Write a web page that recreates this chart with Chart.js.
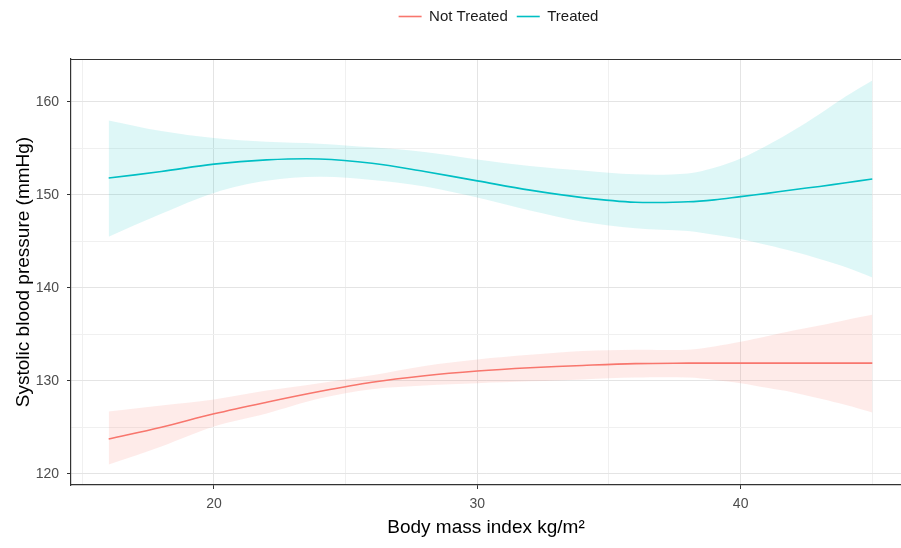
<!DOCTYPE html>
<html><head><meta charset="utf-8">
<script src="https://cdn.jsdelivr.net/npm/chart.js@4.4.1/dist/chart.umd.min.js"></script>
<style>html,body{margin:0;padding:0;background:#fff}#wrap{width:901px;height:548px;position:relative}</style>
</head><body><div id="wrap"><canvas id="c"></canvas></div>
<script>
const seriesNames = ['Not Treated', 'Treated'];
const bmi = [16, 18, 20, 22, 24, 26, 28, 30, 32, 34, 36, 38, 39, 40, 41, 42, 43, 44, 45];
const notTreatedFit   = [123.75, 125.0, 126.45, 127.7, 128.85, 129.85, 130.55, 131.05, 131.4, 131.65, 131.85, 131.9, 131.9, 131.9, 131.9, 131.9, 131.9, 131.9, 131.9];
const notTreatedUpper = [126.7, 127.35, 128.0, 128.95, 129.75, 130.6, 131.6, 132.3, 132.8, 133.2, 133.35, 133.35, 133.7, 134.2, 134.8, 135.4, 135.95, 136.55, 137.1];
const notTreatedLower = [121.0, 122.95, 125.1, 126.5, 128.1, 129.1, 129.5, 129.75, 129.95, 130.15, 130.35, 130.35, 130.1, 129.75, 129.25, 128.75, 128.1, 127.4, 126.6];
const treatedFit   = [151.8, 152.5, 153.3, 153.75, 153.85, 153.4, 152.5, 151.5, 150.5, 149.7, 149.2, 149.25, 149.45, 149.8, 150.15, 150.55, 150.9, 151.3, 151.7];
const treatedUpper = [158.0, 156.85, 156.1, 155.7, 155.5, 155.1, 154.6, 153.8, 153.1, 152.6, 152.2, 152.3, 152.9, 153.9, 155.3, 156.9, 158.7, 160.6, 162.3];
const treatedLower = [145.5, 147.95, 150.2, 151.5, 151.95, 151.6, 150.9, 149.7, 148.3, 147.1, 146.4, 146.1, 145.7, 145.25, 144.6, 143.9, 143.1, 142.2, 141.1];
const xTickLabels = [20, 30, 40];
const yTickLabels = [120, 130, 140, 150, 160];

const RED = '#F8766D', CYAN = '#00BFC4';
const pts = arr => bmi.map((x, i) => ({x: x, y: arr[i]}));
const FONT = "'Liberation Sans', Arial, sans-serif";

const lineDs = (label, data, color) => ({
  label, data: pts(data), borderColor: color, backgroundColor: color,
  borderWidth: 1.6, pointRadius: 0, tension: 0.35, fill: false, order: 0
});
const bandDs = (label, data, fillColor, fill) => ({
  label, data: pts(data), borderColor: 'rgba(0,0,0,0)', backgroundColor: fillColor,
  borderWidth: 0, pointRadius: 0, tension: 0.35, fill: fill, order: 1
});

const border = {
  id: 'panelBorder',
  beforeLayout(chart) {
    const lg = chart.legend;
    if (lg && !lg._patched) {
      const f = lg.fit.bind(lg);
      lg.fit = function () { f(); this.height = 59; };
      lg._patched = true;
    }
  },
  afterLayout(chart) {
    if (chart.legend) { chart.legend.left += 48; chart.legend.right += 48; }
  },
  afterDraw(chart) {
    const a = chart.chartArea, c = chart.ctx;
    c.save(); c.strokeStyle = '#333'; c.lineWidth = 1.2;
    c.beginPath();
    c.moveTo(a.left, a.top + 0.5); c.lineTo(a.right, a.top + 0.5);
    c.stroke(); c.restore();
  }
};

const isMajorX = v => xTickLabels.includes(v);
const isMajorY = v => yTickLabels.includes(v);

new Chart(document.getElementById('c'), {
  type: 'line',
  data: {
    datasets: [
      lineDs(seriesNames[0], notTreatedFit, RED),
      lineDs(seriesNames[1], treatedFit, CYAN),
      bandDs('nt_upper', notTreatedUpper, 'rgba(248,118,109,0.15)', '+1'),
      bandDs('nt_lower', notTreatedLower, 'rgba(248,118,109,0.15)', false),
      bandDs('t_upper', treatedUpper, 'rgba(0,191,196,0.13)', '+1'),
      bandDs('t_lower', treatedLower, 'rgba(0,191,196,0.13)', false)
    ]
  },
  options: {
    responsive: true, maintainAspectRatio: false, animation: false,
    layout: {padding: 0},
    plugins: {
      tooltip: {enabled: false},
      legend: {
        position: 'top',
        labels: {
          filter: item => item.datasetIndex < 2,
          usePointStyle: true, pointStyle: 'line', pointStyleWidth: 23,
          padding: 9, color: '#1a1a1a',
          font: {family: FONT, size: 15}
        }
      }
    },
    scales: {
      x: {
        type: 'linear', min: 14.57, max: 46.09,
        afterFit: s => { s.height = 63; },
        ticks: {
          stepSize: 5, includeBounds: false, autoSkip: false, maxRotation: 0,
          padding: 7, color: '#4d4d4d', font: {family: FONT, size: 14},
          callback: v => isMajorX(v) ? String(v) : ''
        },
        grid: {
          color: c => isMajorX(c.tick && c.tick.value) ? '#e4e4e4' : '#f0f0f0',
          tickColor: c => isMajorX(c.tick && c.tick.value) ? '#333' : 'rgba(0,0,0,0)',
          tickLength: 4, lineWidth: 1
        },
        border: {display: true, color: '#333', width: 1.2},
        title: {display: true, text: 'Body mass index kg/m²', color: '#000',
          font: {family: FONT, size: 19}, padding: {top: 9, bottom: 9}}
      },
      y: {
        min: 118.8, max: 164.6,
        afterFit: s => { s.width = 71; },
        ticks: {
          stepSize: 5, includeBounds: false, autoSkip: false,
          padding: 8, color: '#4d4d4d', font: {family: FONT, size: 14},
          callback: v => isMajorY(v) ? String(v) : ''
        },
        grid: {
          color: c => isMajorY(c.tick && c.tick.value) ? '#e4e4e4' : '#f0f0f0',
          tickColor: c => isMajorY(c.tick && c.tick.value) ? '#333' : 'rgba(0,0,0,0)',
          tickLength: 4, lineWidth: 1
        },
        border: {display: true, color: '#333', width: 1.2},
        title: {display: true, text: 'Systolic blood pressure (mmHg)', color: '#000',
          font: {family: FONT, size: 19}, padding: {top: 12, bottom: 12}}
      }
    }
  },
  plugins: [border]
});
</script></body></html>
